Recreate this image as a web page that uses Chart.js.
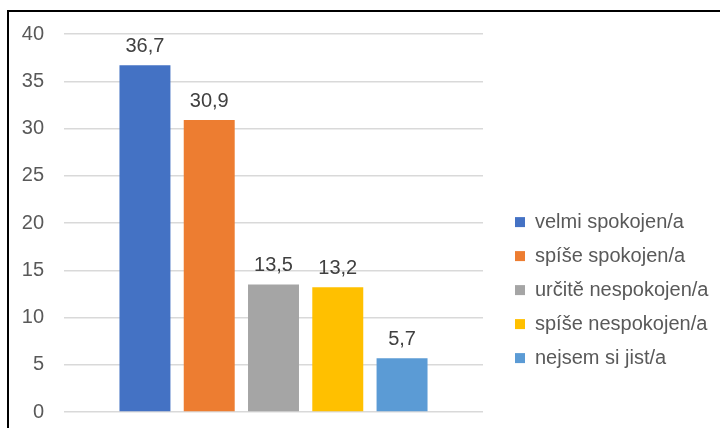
<!DOCTYPE html>
<html>
<head>
<meta charset="utf-8">
<script src="https://cdn.jsdelivr.net/npm/chart.js@4"></script>
<style>
  html, body { margin: 0; padding: 0; background: #fff; }
  body { width: 720px; height: 428px; position: relative; overflow: hidden; }
  #frame {
    position: absolute; left: 7px; top: 10px; width: 720px; height: 430px;
    border-top: 2px solid #000; border-left: 2px solid #000;
  }
  #wrap { position: absolute; left: 9px; top: 12px; width: 711px; height: 416px; }
</style>
</head>
<body>
<div id="frame"></div>
<div id="wrap"><canvas id="chart"></canvas></div>
<script>
const categories = ['velmi spokojen/a', 'spíše spokojen/a', 'určitě nespokojen/a', 'spíše nespokojen/a', 'nejsem si jist/a'];
const values = [36.7, 30.9, 13.5, 13.2, 5.7];
const colors = ['#4472C4', '#ED7D31', '#A5A5A5', '#FFC000', '#5B9BD5'];
const yTicks = [0, 5, 10, 15, 20, 25, 30, 35, 40];

const FONT = "'Liberation Sans', Arial, sans-serif";
const LEGEND_WIDTH = 219;

// value labels above each bar, with decimal comma
const barLabels = {
  id: 'barLabels',
  afterDatasetsDraw(chart) {
    const ctx = chart.ctx;
    ctx.save();
    ctx.font = '20px ' + FONT;
    ctx.fillStyle = '#404040';
    ctx.textAlign = 'center';
    ctx.textBaseline = 'alphabetic';
    chart.data.datasets.forEach((ds, i) => {
      const bar = chart.getDatasetMeta(i).data[0];
      ctx.fillText(ds.data[0].toFixed(1).replace('.', ','), bar.x, bar.y - 13);
    });
    ctx.restore();
  }
};

// the layout caps side boxes at a quarter of the width, the legend needs more
const wideLegend = {
  id: 'wideLegend',
  beforeLayout(chart) {
    const legend = chart.legend;
    if (legend && !legend.wideFit) {
      const fit = legend.fit;
      legend.fit = function () {
        fit.call(this);
        this.width = LEGEND_WIDTH;
      };
      legend.wideFit = true;
    }
  }
};

const datasets = categories.map((name, i) => ({
  label: name,
  data: [values[i]],
  backgroundColor: colors[i],
  categoryPercentage: 0.767,
  barPercentage: 0.793
}));

new Chart(document.getElementById('chart'), {
  type: 'bar',
  data: { labels: [''], datasets: datasets },
  options: {
    responsive: true,
    maintainAspectRatio: false,
    animation: false,
    layout: { padding: { top: 22, bottom: 16, left: 0, right: 0 } },
    plugins: {
      tooltip: { enabled: false },
      legend: {
        position: 'right',
        align: 'center',
        title: { display: true, text: ' ', font: { size: 1 }, padding: { top: 133, bottom: 0 } },
        labels: {
          boxWidth: 10,
          boxHeight: 10,
          padding: 14,
          color: '#595959',
          font: { family: FONT, size: 20 }
        }
      }
    },
    scales: {
      x: { display: false },
      y: {
        min: 0,
        max: 40,
        afterBuildTicks(axis) { axis.ticks = yTicks.map(v => ({ value: v })); },
        afterFit(axis) { axis.width = 55; },
        ticks: { color: '#595959', padding: 0, font: { family: FONT, size: 20 } },
        grid: { color: '#d9d9d9', lineWidth: 1.5, drawTicks: true, tickLength: 20, tickColor: 'rgba(0,0,0,0)' },
        border: { display: false }
      },
      // empty right axis: only keeps the gap between the plot and the legend
      gap: {
        position: 'right',
        display: true,
        ticks: { display: false },
        grid: { display: false, drawTicks: false },
        border: { display: false },
        afterFit(axis) { axis.width = 18; }
      }
    }
  },
  plugins: [barLabels, wideLegend]
});
</script>
</body>
</html>
